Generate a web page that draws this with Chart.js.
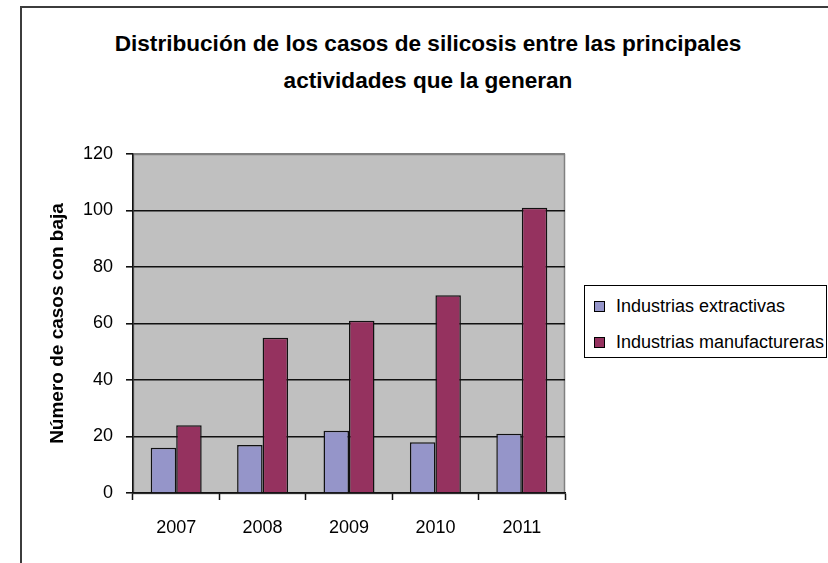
<!DOCTYPE html>
<html lang="es">
<head>
    <meta charset="UTF-8">
    <title>Casos de silicosis</title>
    <script src="https://cdn.jsdelivr.net/npm/chart.js"></script>
    <style>
        body { margin: 0; width: 828px; height: 563px; overflow: hidden; background: #fff;
               font-family: 'Liberation Sans', Arial, sans-serif; position: relative; }
        #frame { position: absolute; left: 20px; top: 6px; width: 900px; height: 700px;
                 border: 2px solid #3c3c3c; }
        #title { position: absolute; left: 0; top: 25px; width: 856px; text-align: center;
                 font-weight: bold; font-size: 22.6px; line-height: 37px; color: #000; }
        #legend { position: absolute; left: 584px; top: 285px; width: 241px; height: 71px;
                  border: 1px solid #000; background: #fff; }
        .item { position: absolute; left: 9px; height: 20px; font-size: 18px; line-height: 20px; color: #000; }
        .item span.box { position: absolute; left: 0; top: 5px; width: 9px; height: 9px; border: 1px solid #000; }
        .item span.txt { position: absolute; left: 22px; top: 0; white-space: nowrap; }
        canvas { position: absolute; left: 0; top: 0; }
    </style>
</head>
<body>
    <div id="frame"></div>
    <div id="title">Distribución de los casos de silicosis entre las principales<br>actividades que la generan</div>
    <canvas id="chart" width="828" height="563"></canvas>
    <div id="legend"></div>

    <script>
        const years = ['2007', '2008', '2009', '2010', '2011'];
        const extractivas = [16, 17, 22, 18, 21];
        const manufactureras = [24, 55, 61, 70, 101];
        const seriesNames = ['Industrias extractivas', 'Industrias manufactureras'];
        const yMin = 0, yMax = 120, yStep = 20;
        const yTitle = 'Número de casos con baja';

        const colors = ['#9595C9', '#95325F'];

        // legend
        const legend = document.getElementById('legend');
        seriesNames.forEach((name, i) => {
            legend.innerHTML += `<div class="item" style="top:${10 + i * 36}px">
                <span class="box" style="background:${colors[i]}"></span>
                <span class="txt">${name}</span></div>`;
        });

        const plotBg = {
            id: 'plotBg',
            beforeDraw(chart) {
                const { ctx, chartArea: a } = chart;
                ctx.save();
                ctx.fillStyle = '#C0C0C0';
                ctx.fillRect(a.left, a.top, a.right - a.left, a.bottom - a.top);
                ctx.strokeStyle = '#808080';
                ctx.lineWidth = 1.5;
                ctx.strokeRect(a.left + 0.5, a.top + 0.5, a.right - a.left - 1, a.bottom - a.top);
                ctx.restore();
            }
        };

        const font = "'Liberation Sans', Arial, sans-serif";

        new Chart(document.getElementById('chart'), {
            type: 'bar',
            data: {
                labels: years,
                datasets: [
                    { label: seriesNames[0], data: extractivas, backgroundColor: colors[0] },
                    { label: seriesNames[1], data: manufactureras, backgroundColor: colors[1] }
                ]
            },
            options: {
                responsive: false,
                animation: false,
                devicePixelRatio: 1,
                layout: { padding: { top: 154, right: 263, bottom: 0, left: 0 } },
                datasets: {
                    bar: { borderColor: '#111', borderWidth: 1.5, categoryPercentage: 0.59, barPercentage: 1 }
                },
                plugins: {
                    legend: { display: false },
                    title: { display: false },
                    tooltip: { enabled: false }
                },
                scales: {
                    x: {
                        afterFit: s => { s.height = 70; },
                        grid: { drawOnChartArea: false, drawTicks: true, tickLength: 7, tickColor: '#111', tickWidth: 1.5, offset: true },
                        border: { color: '#111', width: 1.5 },
                        ticks: { color: '#000', padding: 17, font: { family: font, size: 18 } }
                    },
                    y: {
                        min: yMin, max: yMax,
                        afterFit: s => { s.width = 133; },
                        grid: {
                            color: c => (c.tick && c.tick.value === yMax) ? '#808080' : '#111',
                            tickColor: '#111', tickLength: 7, lineWidth: 1.6, tickWidth: 1.6
                        },
                        border: { color: '#111', width: 1.5 },
                        ticks: { stepSize: yStep, color: '#000', padding: 13, font: { family: font, size: 18 } },
                        title: {
                            display: true, text: yTitle, color: '#000',
                            font: { family: font, size: 19, weight: 'bold' },
                            padding: { top: 46, bottom: 0 }
                        }
                    }
                }
            },
            plugins: [plotBg]
        });
    </script>
</body>
</html>
